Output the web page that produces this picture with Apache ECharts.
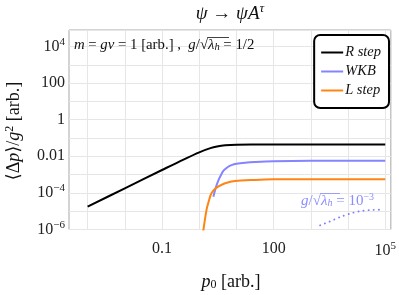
<!DOCTYPE html>
<html>
<head>
<meta charset="utf-8">
<script src="https://cdn.jsdelivr.net/npm/echarts@6/dist/echarts.min.js"></script>
<style>
html,body{margin:0;padding:0;background:#fff;}
#chart{width:399px;height:295px;}
</style>
</head>
<body>
<div id="chart"></div>
<script>
// ---- data ----
const pR = [0.001, 0.01, 0.1, 0.3, 1, 2, 3, 5, 10, 30, 100, 1000, 10000, 100000];
const vR = [1.78e-5, 1.78e-4, 1.78e-3, 5.3e-3, 0.0165, 0.0278, 0.0342, 0.0398, 0.0432, 0.0443, 0.0445, 0.0446, 0.0446, 0.0446];

const pW = [2.4, 2.8, 3.3, 4.0, 4.5, 6.0, 7.4, 10, 17, 32, 100, 1000, 10000, 100000];
const vW = [6.2e-5, 2.0e-4, 5.0e-4, 1.12e-3, 1.66e-3, 2.69e-3, 3.31e-3, 3.89e-3, 4.47e-3, 4.9e-3, 5.37e-3, 5.62e-3, 5.75e-3, 5.75e-3];

const pL = [1.26, 1.30, 1.58, 1.78, 2.0, 2.24, 2.69, 3.31, 5.0, 9.1, 31.6, 100, 1000, 10000, 100000];
const vL = [5e-7, 1e-6, 1.26e-5, 3.16e-5, 7.1e-5, 1.12e-4, 1.66e-4, 2.29e-4, 3.39e-4, 4.47e-4, 5.13e-4, 5.5e-4, 5.6e-4, 5.6e-4, 5.6e-4];

const pD = [1778, 3162, 6310, 12590, 22390, 39810, 74130];
const vD = [1.7e-6, 2.7e-6, 4.9e-6, 7.9e-6, 1.02e-5, 1.16e-5, 1.2e-5];

const seriesNames = ['R step', 'WKB', 'L step'];

const xTickValues = [0.1, 100, 1e5];
const xTickLabels = ['0.1', '100', '{b|10}{s|5}'];
const yTickValues = [1e-6, 1e-4, 0.01, 1, 100, 1e4];
const yTickLabels = ['{b|10}{s|\u22126}', '{b|10}{s|\u22124}', '0.01', '1', '100', '{b|10}{s|4}'];

// ---- build ----
const FONT = '"Liberation Serif", "DejaVu Serif", serif';
const L10 = Math.log10;
function pairs(xs, ys) { return xs.map((x, i) => [L10(x), L10(ys[i])]); }
function makeFmt(vals, labels) {
  return function (v) {
    for (let i = 0; i < vals.length; i++) {
      if (Math.abs(L10(vals[i]) - v) < 1e-6) return labels[i];
    }
    return '';
  };
}
const richTick = {
  b: { fontFamily: FONT, fontSize: 16, color: '#222' },
  s: { fontFamily: FONT, fontSize: 11, color: '#222', padding: [0, 0, 9, 0] }
};

const chart = echarts.init(document.getElementById('chart'), null, { renderer: 'canvas' });
const option = {
  animation: false,
  backgroundColor: '#fff',
  grid: { left: 69, top: 30, right: 6, bottom: 65.5, show: true, borderColor: '#a8a8a8', borderWidth: 1, containLabel: false },
  xAxis: {
    type: 'value', min: -3.5, max: 5.15, interval: 0.5,
    axisLine: { show: false }, axisTick: { show: false },
    splitLine: { show: true, lineStyle: { color: ['rgba(0,0,0,0)', '#e6e6e6'], width: 1 } },
    axisLabel: { formatter: makeFmt(xTickValues, xTickLabels), fontFamily: FONT, fontSize: 16, color: '#222', margin: 11, rich: richTick, showMinLabel: true, showMaxLabel: true, hideOverlap: false }
  },
  yAxis: {
    type: 'value', min: -6, max: 4.9, interval: 1,
    axisLine: { show: false }, axisTick: { show: false },
    splitLine: { show: true, lineStyle: { color: '#e6e6e6', width: 1 } },
    axisLabel: { formatter: makeFmt(yTickValues, yTickLabels), fontFamily: FONT, fontSize: 16, color: '#222', margin: 4, rich: richTick, hideOverlap: false }
  },
  legend: {
    data: seriesNames, orient: 'vertical', right: 10, top: 35,
    backgroundColor: '#fff', borderColor: '#000', borderWidth: 2, borderRadius: 6,
    padding: [10, 8, 10, 7], itemGap: 4, itemWidth: 22, itemHeight: 2, icon: 'rect',
    textStyle: { fontFamily: FONT, fontStyle: 'italic', fontSize: 14.5, lineHeight: 15, color: '#111', padding: [0, 0, 0, -3] }
  },
  series: [
    { name: 'R step', type: 'line', data: pairs(pR, vR), showSymbol: false, symbol: 'none', smooth: 0.3,
      lineStyle: { color: '#000', width: 2 }, itemStyle: { color: '#000' }, z: 3 },
    { name: 'WKB', type: 'line', data: pairs(pW, vW), showSymbol: false, symbol: 'none', smooth: 0.3,
      lineStyle: { color: '#8484ff', width: 2 }, itemStyle: { color: '#8484ff' }, z: 3 },
    { name: 'L step', type: 'line', data: pairs(pL, vL), showSymbol: false, symbol: 'none', smooth: 0.3,
      lineStyle: { color: '#ff8512', width: 2 }, itemStyle: { color: '#ff8512' }, z: 3 },
    { name: 'dotted', type: 'line', data: pairs(pD, vD), showSymbol: false, symbol: 'none', smooth: 0.3,
      lineStyle: { color: '#8080ff', width: 1.9, type: [0.1, 5], cap: 'round' }, z: 3 }
  ],
  graphic: [
    { type: 'text', x: 230, y: 14, style: { text: '{i|\u03c8} \u2192 {i|\u03c8A}{s|\u03c4}', font: '19px ' + FONT, fill: '#111', align: 'center', verticalAlign: 'middle',
      rich: { i: { fontFamily: FONT, fontSize: 19, fontStyle: 'italic' }, s: { fontFamily: FONT, fontSize: 13, fontStyle: 'italic', padding: [0, 0, 10, 0] } } } },
    { type: 'text', x: 14, y: 131, rotation: Math.PI / 2, style: { text: '\u27e8\u0394{i|p}\u27e9/{i|g}{s|2} [arb.]', font: '18px ' + FONT, fill: '#111', align: 'center', verticalAlign: 'middle',
      rich: { i: { fontFamily: FONT, fontSize: 18, fontStyle: 'italic' }, s: { fontFamily: FONT, fontSize: 12, padding: [0, 0, 8, 0] } } } },
    { type: 'text', x: 231, y: 282, style: { text: '{i|p}{d|0} [arb.]', font: '18px ' + FONT, fill: '#111', align: 'center', verticalAlign: 'middle',
      rich: { i: { fontFamily: FONT, fontSize: 18, fontStyle: 'italic' }, d: { fontFamily: FONT, fontSize: 12, padding: [6, 0, 0, 0] } } } },
    // annotation top-left
    { type: 'text', x: 208, y: 45, z: 10, style: { text: '{i|m} = {i|gv} = 1 [arb.] ,  {i|g}/\u221a', font: '14.8px ' + FONT, fill: '#111', align: 'right', verticalAlign: 'middle',
      rich: { i: { fontFamily: FONT, fontSize: 14.8, fontStyle: 'italic' } } } },
    { type: 'line', z: 10, shape: { x1: 207.5, y1: 37.5, x2: 229, y2: 37.5 }, style: { stroke: '#111', lineWidth: 0.8 } },
    { type: 'text', x: 208, y: 45, z: 10, style: { text: '{i|\u03bb}{d|h} = 1/2', font: '14.8px ' + FONT, fill: '#111', align: 'left', verticalAlign: 'middle',
      rich: { i: { fontFamily: FONT, fontSize: 14.8, fontStyle: 'italic' }, d: { fontFamily: FONT, fontSize: 10.5, fontStyle: 'italic', padding: [5, 0, 0, 0] } } } },
    // blue annotation
    { type: 'text', x: 321, y: 201, z: 10, style: { text: '{i|g}/\u221a', font: '15px ' + FONT, fill: '#8c8cff', align: 'right', verticalAlign: 'middle',
      rich: { i: { fontFamily: FONT, fontSize: 15, fontStyle: 'italic' } } } },
    { type: 'line', z: 10, shape: { x1: 320.5, y1: 193.5, x2: 340, y2: 193.5 }, style: { stroke: '#8c8cff', lineWidth: 0.8 } },
    { type: 'text', x: 321, y: 201, z: 10, style: { text: '{i|\u03bb}{d|h} = 10{s|\u22123}', font: '15px ' + FONT, fill: '#8c8cff', align: 'left', verticalAlign: 'middle',
      rich: { i: { fontFamily: FONT, fontSize: 15, fontStyle: 'italic' }, d: { fontFamily: FONT, fontSize: 10, fontStyle: 'italic', padding: [5, 0, 0, 0] }, s: { fontFamily: FONT, fontSize: 10, padding: [0, 0, 8, 0] } } } }
  ]
};
chart.setOption(option);
</script>
</body>
</html>
